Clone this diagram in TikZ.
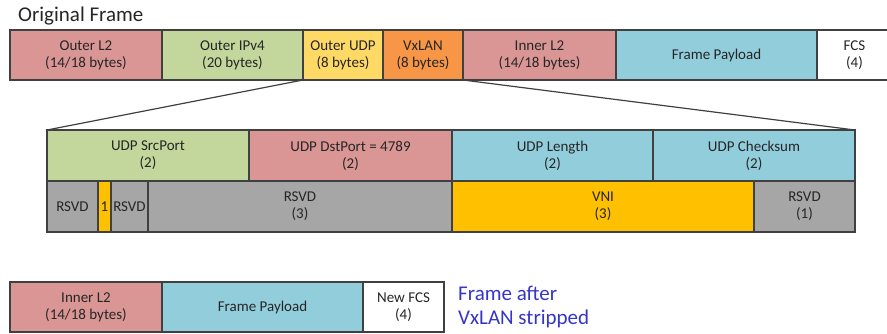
\documentclass[tikz,border=0pt]{standalone}
\usepackage{fontspec}
\setmainfont{Carlito}
\usetikzlibrary{positioning}

\definecolor{redfld}{HTML}{D99694}
\definecolor{grnfld}{HTML}{C3D69B}
\definecolor{ylwfld}{HTML}{FFD966}
\definecolor{orgfld}{HTML}{F79646}
\definecolor{bluefld}{HTML}{92CDDC}
\definecolor{vnifld}{HTML}{FFC000}
\definecolor{rsvdfld}{HTML}{A6A6A6}
\definecolor{edgecol}{HTML}{404040}
\definecolor{notecol}{HTML}{3535C8}

\begin{document}
\begin{tikzpicture}[x=1pt, y=-1pt,
    field/.style={draw=edgecol, line width=1.2pt, outer sep=0pt, inner sep=0pt,
        align=center, text=black!85, font=\fontsize{15}{17}\selectfont,
        anchor=north west},
    toprow/.style={field, minimum height=50pt},
    midrow/.style={field, minimum height=51pt}]
    \useasboundingbox (0,0) rectangle (887,333);

    % original frame
    \node[anchor=west, inner sep=0pt, text=black!85, font=\fontsize{21}{24}\selectfont] (title) at (18,16) {Original Frame};
    \node[toprow, fill=redfld, minimum width=152pt] (ol2) at (10,30) {Outer L2\\(14/18 bytes)};
    \node[toprow, fill=grnfld, minimum width=141pt, right=0pt of ol2] (oip) {Outer IPv4\\(20 bytes)};
    \node[toprow, fill=ylwfld, minimum width=80pt, right=0pt of oip] (oudp) {Outer UDP\\(8 bytes)};
    \node[toprow, fill=orgfld, minimum width=80pt, right=0pt of oudp] (vxlan) {VxLAN\\(8 bytes)};
    \node[toprow, fill=redfld, minimum width=153pt, right=0pt of vxlan] (il2) {Inner L2\\(14/18 bytes)};
    \node[toprow, fill=bluefld, minimum width=201pt, right=0pt of il2] (pay) {Frame Payload};
    \node[toprow, fill=white, minimum width=75pt, right=0pt of pay] (fcs) {FCS\\(4)};

    % expanded headers, first row
    \node[midrow, fill=grnfld, minimum width=202pt] (src) at (47,130) {UDP SrcPort\\(2)};
    \node[midrow, fill=redfld, minimum width=203pt, right=0pt of src] (dst) {UDP DstPort = 4789\\(2)};
    \node[midrow, fill=bluefld, minimum width=201pt, right=0pt of dst] (len) {UDP Length\\(2)};
    \node[midrow, fill=bluefld, minimum width=202pt, right=0pt of len] (cks) {UDP Checksum\\(2)};

    % expanded headers, second row
    \node[midrow, fill=rsvdfld, minimum width=51pt, below=0pt of src.south west, anchor=north west] (rsvda) {RSVD};
    \node[midrow, fill=vnifld, minimum width=13pt, right=0pt of rsvda] (flag) {1};
    \node[midrow, fill=rsvdfld, minimum width=37pt, right=0pt of flag] (rsvdb) {RSVD};
    \node[midrow, fill=rsvdfld, minimum width=304pt, right=0pt of rsvdb] (rsvdc) {RSVD\\(3)};
    \node[midrow, fill=vnifld, minimum width=302pt, right=0pt of rsvdc] (vni) {VNI\\(3)};
    \node[midrow, fill=rsvdfld, minimum width=101pt, right=0pt of vni] (rsvdd) {RSVD\\(1)};

    % zoom lines
    \draw[edgecol, line width=1.2pt] (oudp.south west) -- (src.north west);
    \draw[edgecol, line width=1.2pt] (vxlan.south east) -- (cks.north east);

    % frame after stripping
    \node[toprow, fill=redfld, minimum width=152pt] (nil2) at (10,282) {Inner L2\\(14/18 bytes)};
    \node[toprow, fill=bluefld, minimum width=201pt, right=0pt of nil2] (npay) {Frame Payload};
    \node[toprow, fill=white, minimum width=81pt, right=0pt of npay] (nfcs) {New FCS\\(4)};
    \node[anchor=west, align=left, inner sep=0pt, text=notecol, font=\fontsize{21}{24}\selectfont,
        right=14pt of nfcs] (note) {Frame after\\VxLAN stripped};
\end{tikzpicture}
\end{document}
